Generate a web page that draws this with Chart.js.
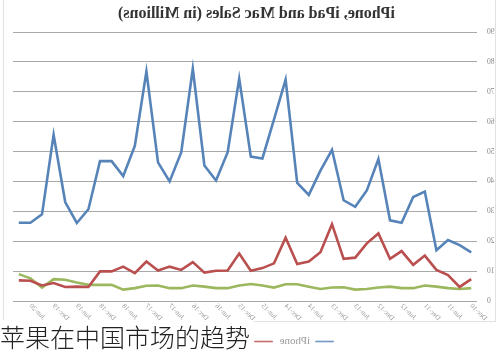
<!DOCTYPE html>
<html>
<head>
<meta charset="utf-8">
<script src="https://cdn.jsdelivr.net/npm/chart.js@4.4.1/dist/chart.umd.min.js"></script>
<style>
  html, body { margin: 0; padding: 0; background: #fff; width: 500px; height: 357px; overflow: hidden; }
  #frame { position: absolute; left: 3px; top: -1px; width: 491px; height: 322px; border: 1px solid #e2e2e2; border-top: none; }
  #wrap { position: absolute; left: 0; top: 0; width: 500px; height: 357px; transform: scaleX(-1); }
  #caption { position: absolute; left: 0; top: 320px; height: 37px; padding: 0 4px 0 0; background: #fff;
             font-family: "Noto Sans CJK SC", sans-serif; font-size: 25px; line-height: 32px; color: #222; font-weight: 300; }
</style>
</head>
<body>
<div id="frame"></div>
<div id="wrap"><canvas id="c" width="500" height="357"></canvas></div>
<div id="caption">苹果在中国市场的趋势</div>
<script>
const quarters = ["Dec-10","Mar-11","Jun-11","Sep-11","Dec-11","Mar-12","Jun-12","Sep-12","Dec-12","Mar-13",
  "Jun-13","Sep-13","Dec-13","Mar-14","Jun-14","Sep-14","Dec-14","Mar-15","Jun-15","Sep-15",
  "Dec-15","Mar-16","Jun-16","Sep-16","Dec-16","Mar-17","Jun-17","Sep-17","Dec-17","Mar-18",
  "Jun-18","Sep-18","Dec-18","Mar-19","Jun-19","Sep-19","Dec-19","Mar-20","Jun-20","Sep-20"];
const iphone = [16.3,18.7,20.4,17.0,36.6,34.8,26.2,27.0,47.5,37.0,31.5,33.7,50.6,43.6,35.5,39.5,74.1,60.8,47.7,48.3,
  74.4,49.7,40.3,45.3,77.7,49.7,40.0,46.4,76.8,51.9,41.8,46.8,46.8,30.7,26.1,33.1,55.6,29.0,26.2,26.2];
const ipad = [7.3,4.7,8.7,10.4,15.2,12.1,16.7,14.1,22.6,19.3,14.5,14.1,25.7,16.3,13.2,12.4,21.2,12.6,11.0,10.1,
  15.9,10.2,10.1,9.5,13.0,10.4,11.5,10.2,13.2,9.3,11.5,9.9,9.9,4.7,4.8,4.7,6.0,5.2,6.8,6.9];
const mac = [4.3,4.0,4.3,4.8,5.2,4.3,4.3,4.8,4.5,4.0,3.8,4.6,4.5,4.0,4.8,5.6,5.6,4.5,5.2,5.7,
  5.2,4.3,4.3,4.8,5.2,4.3,4.3,5.2,5.1,4.3,3.8,5.4,5.4,5.4,6.2,7.1,7.3,4.5,7.6,9.0];
const yTicks = [0,10,20,30,40,50,60,70,80,90];

const mk = (label, data, color) => ({
  label, data, borderColor: color, backgroundColor: color, borderWidth: 2.6,
  pointRadius: 0, tension: 0, fill: false
});

new Chart(document.getElementById('c'), {
  type: 'line',
  data: {
    labels: quarters,
    datasets: [mk('iPhone', iphone, '#5784b8'), mk('iPad', ipad, '#b9504f'), mk('Mac', mac, '#9bb85e')]
  },
  options: {
    responsive: false, animation: false,
    layout: { padding: { left: 0, right: 13, top: 0, bottom: 0 } },
    plugins: {
      title: { display: true, text: 'iPhone, iPad and Mac Sales (in Millions)', color: '#333',
        font: { family: 'Liberation Serif', size: 16, weight: 'bold', lineHeight: 1.2 },
        padding: { top: 4.5, bottom: 8.3 } },
      legend: { position: 'bottom',
        labels: { color: '#999', font: { family: 'Liberation Serif', size: 11 }, boxWidth: 18, boxHeight: 1, padding: 7,
          generateLabels: chart => Chart.defaults.plugins.legend.labels.generateLabels(chart).map(l => {
            l.lineWidth = 0.8; l.fillStyle = chart.data.datasets[l.datasetIndex].borderColor + 'aa';
            l.strokeStyle = chart.data.datasets[l.datasetIndex].borderColor + 'aa'; return l; }) } },
      tooltip: { enabled: false }
    },
    scales: {
      x: {
        offset: true,
        grid: { display: false, drawTicks: false },
        border: { display: false },
        afterFit: s => { s.height = 28; },
        ticks: { autoSkip: false, maxRotation: 45, minRotation: 45, padding: 1, color: '#999',
          font: { family: 'Liberation Serif', size: 7 },
          callback: function(v, i) { return i % 2 === 0 ? this.getLabelForValue(v) : ''; } }
      },
      y: {
        min: 0, max: 90,
        afterBuildTicks: s => { s.ticks = yTicks.map(v => ({ value: v })); },
        afterFit: s => { s.width = 23; },
        grid: { color: '#a9a9a9', lineWidth: 1, drawTicks: false },
        border: { display: false },
        ticks: { padding: 10, color: '#888', font: { family: 'Liberation Serif', size: 7.5 } }
      }
    }
  }
});
</script>
</body>
</html>
